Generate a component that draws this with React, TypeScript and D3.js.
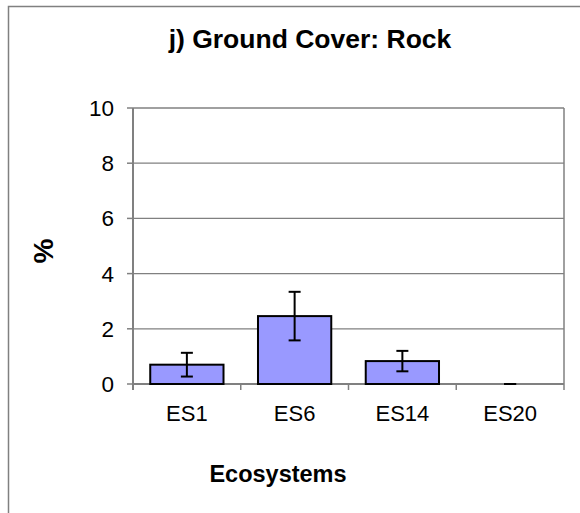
import React from "react";
import * as d3 from "d3";

const categories = ["ES1", "ES6", "ES14", "ES20"];
const values = [0.7, 2.46, 0.83, 0];
const errors = [0.43, 0.88, 0.37, 0];
const yTicks = [0, 2, 4, 6, 8, 10];
const title = "j) Ground Cover: Rock";
const xTitle = "Ecosystems";
const yTitle = "%";

export default function App() {
  const W = 580, H = 513;
  const left = 133, right = 564, top = 108, bottom = 384;
  const x = d3.scaleBand<string>().domain(categories).range([left, right]).paddingInner(0.32).paddingOuter(0.16);
  const xb = d3.scaleBand<string>().domain(categories).range([left, right]);
  const y = d3.scaleLinear().domain([0, 10]).range([bottom, top]);
  const font = "'Liberation Sans', Arial, sans-serif";
  const grey = "#808080";
  return (
    <svg width={W} height={H} style={{ position: "absolute", left: 0, top: 0, background: "#fff" }} fontFamily={font}>
      <rect x={8.5} y={6.5} width={700} height={700} fill="#fff" stroke={grey} strokeWidth={1.5} />
      <text x={310} y={48} textAnchor="middle" fontWeight="bold" fontSize={26.5}>{title}</text>
      {yTicks.filter(t => t > 0).map(t => (
        <line key={"g" + t} x1={left} x2={right} y1={y(t)} y2={y(t)} stroke={grey} strokeWidth={1.3} />
      ))}
      <line x1={right} x2={right} y1={top} y2={bottom} stroke={grey} strokeWidth={1.5} />
      <line x1={left} x2={right} y1={bottom} y2={bottom} stroke={grey} strokeWidth={2} />
      {[...xb.domain().map(c => xb(c)!), right].map((t, i) => (
        <line key={"xt" + i} x1={t} x2={t} y1={bottom} y2={bottom + 6} stroke={grey} strokeWidth={1.5} />
      ))}
      <line x1={left} x2={left} y1={top} y2={bottom + 6} stroke={grey} strokeWidth={2} />
      {yTicks.map(t => (
        <g key={"yt" + t}>
          <line x1={left - 6} x2={left} y1={y(t)} y2={y(t)} stroke={grey} strokeWidth={1.5} />
          <text x={114} y={y(t) + 8} textAnchor="end" fontSize={22.5}>{t}</text>
        </g>
      ))}
      {categories.map((c, i) => {
        const v = values[i];
        const bx = x(c)!;
        const bw = x.bandwidth();
        const cx = xb(c)! + xb.bandwidth() / 2;
        const hi = y(v + errors[i]);
        const lo = y(Math.max(0, v - errors[i]));
        return (
          <g key={c}>
            {v > 0 && (
              <rect x={bx} y={y(v)} width={bw} height={y(0) - y(v)} fill="#9999FF" stroke="#000" strokeWidth={2} />
            )}
            <line x1={cx} x2={cx} y1={hi} y2={lo} stroke="#000" strokeWidth={2} />
            <line x1={cx - 6} x2={cx + 6} y1={hi} y2={hi} stroke="#000" strokeWidth={2} />
            <line x1={cx - 6} x2={cx + 6} y1={lo} y2={lo} stroke="#000" strokeWidth={2} />
            <text x={cx} y={421} textAnchor="middle" fontSize={22}>{c}</text>
          </g>
        );
      })}
      <text x={278} y={482} textAnchor="middle" fontWeight="bold" fontSize={23.5}>{xTitle}</text>
      <text transform="translate(53,251) rotate(-90)" textAnchor="middle" fontWeight="bold" fontSize={28}>{yTitle}</text>
    </svg>
  );
}
